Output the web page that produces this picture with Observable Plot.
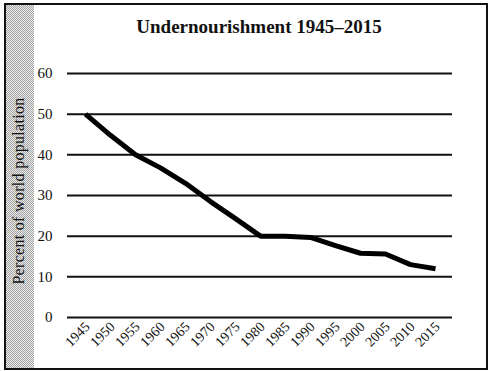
<!DOCTYPE html>
<html>
<head>
<meta charset="utf-8">
<script src="https://cdn.jsdelivr.net/npm/d3@7"></script>
<script src="https://cdn.jsdelivr.net/npm/@observablehq/plot@0.6"></script>
<style>
  html, body { margin: 0; padding: 0; background: #fff; }
  #wrap { position: relative; width: 490px; height: 371px; overflow: hidden; font-family: "Liberation Serif", "DejaVu Serif", serif; }
  #strip { position: absolute; left: 5px; top: 4px; width: 29px; height: 364px;
    background-color: #cfcfcf;
    background-image: repeating-conic-gradient(#a6a6a6 0 25%, #e8e8e8 0 50%);
    background-size: 2px 2px; }
  #frame { position: absolute; left: 4px; top: 3px; width: 480px; height: 363px; border: 2px solid #111; }
  #title { position: absolute; left: 0; width: 518px; top: 16px; text-align: center; font-weight: bold; font-size: 19px; color: #111; }
  #ylab { position: absolute; left: 19px; top: 191px; transform: translate(-50%, -50%) rotate(-90deg); white-space: nowrap; font-size: 16px; letter-spacing: 0.3px; color: #111; }
  #chart { position: absolute; left: 0; top: 0; }
</style>
</head>
<body>
<div id="wrap">
  <div id="strip"></div>
  <div id="frame"></div>
  <div id="chart"></div>
  <div id="title">Undernourishment 1945–2015</div>
  <div id="ylab">Percent of world population</div>
</div>
<script>
const years = ["1945","1950","1955","1960","1965","1970","1975","1980","1985","1990","1995","2000","2005","2010","2015"];
const percent = [50, 44.8, 40, 36.8, 33, 28.5, 24.3, 20, 20, 19.7, 17.7, 15.8, 15.6, 13, 12];
const yTicks = [0, 10, 20, 30, 40, 50, 60];

const data = years.map((y, i) => ({year: y, value: percent[i]}));
const serif = "Liberation Serif, DejaVu Serif, serif";

const chart = Plot.plot({
  width: 490,
  height: 371,
  marginLeft: 67,
  marginRight: 38,
  marginTop: 73,
  marginBottom: 54,
  style: {background: "transparent", fontFamily: serif, fontSize: "14px", color: "#111"},
  x: {type: "point", domain: years, padding: 0.5, label: null},
  y: {domain: [0, 60], label: null},
  marks: [
    Plot.ruleY(yTicks, {stroke: "#111", strokeWidth: 2}),
    Plot.axisY(yTicks, {tickSize: 0, tickPadding: 15, fontSize: 15, fontFamily: serif, label: null}),
    Plot.axisX(years, {tickSize: 0, tickRotate: -45, tickPadding: 7, fontSize: 14, fontFamily: serif, label: null, dx: 2}),
    Plot.line(data, {x: "year", y: "value", stroke: "#000", strokeWidth: 5, strokeLinejoin: "round", strokeLinecap: "butt"})
  ]
});
document.getElementById("chart").appendChild(chart);
</script>
</body>
</html>
